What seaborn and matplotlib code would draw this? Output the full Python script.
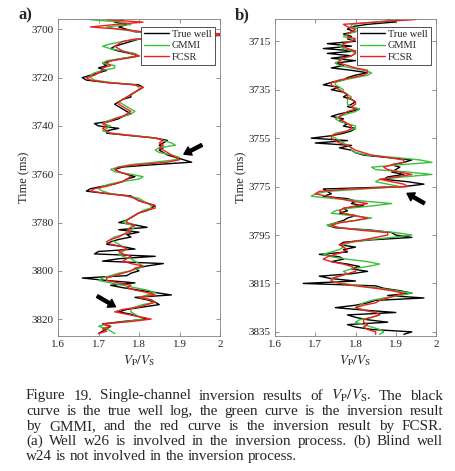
import numpy as np
import pandas as pd
import matplotlib
matplotlib.use('Agg')
import matplotlib.pyplot as plt
from matplotlib.lines import Line2D
import seaborn as sns

# ---- data (1 ms sampling) ----
time_a = np.arange(3696, 3827)
true_a = [1.76, 1.74, 1.77, 1.75, 1.77, 1.79, 2.05, 1.95, 1.80, 1.78,
          1.76, 1.74, 1.73, 1.75, 1.78, 1.80, 1.76, 1.73, 1.71, 1.72,
          1.70, 1.72, 1.70, 1.68, 1.66, 1.67, 1.72, 1.80, 1.81, 1.80,
          1.79, 1.78, 1.78, 1.76, 1.75, 1.74, 1.75, 1.76, 1.77, 1.78,
          1.76, 1.75, 1.73, 1.69, 1.70, 1.75, 1.72, 1.72, 1.78, 1.84,
          1.87, 1.86, 1.85, 1.86, 1.85, 1.86, 1.87, 1.89, 1.91, 1.93,
          1.84, 1.76, 1.74, 1.75, 1.77, 1.79, 1.77, 1.76, 1.74, 1.71,
          1.68, 1.67, 1.72, 1.78, 1.79, 1.80, 1.82, 1.84, 1.83, 1.82,
          1.80, 1.79, 1.78, 1.77, 1.75, 1.79, 1.82, 1.75, 1.80, 1.77,
          1.78, 1.75, 1.73, 1.72, 1.76, 1.79, 1.70, 1.69, 1.84, 1.75,
          1.71, 1.86, 1.82, 1.79, 1.80, 1.78, 1.77, 1.66, 1.72, 1.79,
          1.73, 1.76, 1.80, 1.84, 1.88, 1.79, 1.82, 1.84, 1.85, 1.81,
          1.77, 1.75, 1.78, 1.80, 1.82, 1.76, 1.71, 1.73, 1.72, 1.71,
          1.70]
gmmi_a = [1.68, 1.76, 1.78, 1.72, 1.75, 1.80, 1.83, 1.85, 1.80, 1.76,
          1.73, 1.71, 1.73, 1.76, 1.79, 1.80, 1.76, 1.72, 1.71, 1.74,
          1.74, 1.71, 1.69, 1.68, 1.68, 1.69, 1.73, 1.79, 1.80, 1.80,
          1.79, 1.78, 1.77, 1.76, 1.75, 1.76, 1.77, 1.78, 1.79, 1.78,
          1.76, 1.74, 1.72, 1.71, 1.73, 1.72, 1.71, 1.73, 1.79, 1.84,
          1.86, 1.88, 1.89, 1.85, 1.84, 1.85, 1.88, 1.90, 1.89, 1.84,
          1.78, 1.75, 1.73, 1.74, 1.78, 1.81, 1.80, 1.76, 1.73, 1.71,
          1.70, 1.71, 1.73, 1.77, 1.80, 1.81, 1.82, 1.83, 1.83, 1.81,
          1.80, 1.79, 1.78, 1.77, 1.76, 1.78, 1.79, 1.78, 1.77, 1.76,
          1.74, 1.73, 1.74, 1.75, 1.76, 1.77, 1.76, 1.75, 1.76, 1.78,
          1.79, 1.80, 1.81, 1.80, 1.78, 1.75, 1.73, 1.71, 1.70, 1.73,
          1.76, 1.79, 1.82, 1.84, 1.82, 1.80, 1.83, 1.84, 1.81, 1.79,
          1.78, 1.78, 1.79, 1.80, 1.81, 1.77, 1.72, 1.70, 1.72, 1.73,
          1.74]
fcsr_a = [1.72, 1.81, 1.74, 1.68, 1.76, 1.81, 2.05, 1.92, 1.79, 1.76,
          1.75, 1.74, 1.75, 1.76, 1.78, 1.80, 1.77, 1.73, 1.72, 1.73,
          1.71, 1.71, 1.70, 1.69, 1.67, 1.68, 1.72, 1.79, 1.81, 1.80,
          1.79, 1.78, 1.77, 1.76, 1.75, 1.75, 1.76, 1.77, 1.78, 1.77,
          1.76, 1.74, 1.73, 1.71, 1.72, 1.71, 1.72, 1.73, 1.78, 1.84,
          1.86, 1.85, 1.86, 1.85, 1.86, 1.87, 1.88, 1.89, 1.90, 1.87,
          1.80, 1.75, 1.74, 1.75, 1.77, 1.78, 1.77, 1.76, 1.74, 1.72,
          1.69, 1.68, 1.72, 1.77, 1.79, 1.80, 1.82, 1.84, 1.84, 1.82,
          1.80, 1.79, 1.78, 1.77, 1.77, 1.79, 1.78, 1.77, 1.78, 1.76,
          1.75, 1.73, 1.72, 1.73, 1.76, 1.77, 1.75, 1.76, 1.78, 1.77,
          1.76, 1.78, 1.81, 1.79, 1.78, 1.76, 1.74, 1.72, 1.72, 1.75,
          1.78, 1.77, 1.79, 1.82, 1.84, 1.80, 1.83, 1.84, 1.82, 1.80,
          1.76, 1.74, 1.77, 1.80, 1.83, 1.78, 1.71, 1.73, 1.71, 1.72,
          1.70]

time_b = np.arange(3706, 3837)
true_b = [1.88, 1.90, 1.83, 1.79, 1.78, 1.80, 1.77, 1.79, 1.78, 1.80,
          1.73, 1.79, 1.72, 1.80, 1.73, 1.79, 1.74, 1.80, 1.75, 1.77,
          1.74, 1.79, 1.83, 1.80, 1.78, 1.77, 1.74, 1.72, 1.76, 1.74,
          1.77, 1.78, 1.77, 1.79, 1.80, 1.79, 1.78, 1.81, 1.79, 1.76,
          1.74, 1.77, 1.76, 1.78, 1.77, 1.80, 1.79, 1.77, 1.74, 1.69,
          1.78, 1.70, 1.79, 1.76, 1.79, 1.80, 1.82, 1.88, 1.94, 1.92,
          1.89, 1.91, 1.90, 1.89, 1.92, 1.88, 1.87, 1.93, 1.97, 1.92,
          1.72, 1.73, 1.74, 1.72, 1.78, 1.80, 1.79, 1.82, 1.77, 1.78,
          1.76, 1.80, 1.78, 1.77, 1.75, 1.73, 1.75, 1.84, 1.89, 1.90,
          1.94, 1.84, 1.77, 1.76, 1.80, 1.77, 1.78, 1.71, 1.76, 1.77,
          1.74, 1.78, 1.81, 1.79, 1.83, 1.79, 1.71, 1.74, 1.80, 1.67,
          1.85, 1.87, 1.91, 1.94, 1.88, 1.97, 1.85, 1.83, 1.80, 1.75,
          1.82, 1.90, 1.78, 1.80, 1.83, 1.88, 1.78, 1.80, 1.84, 1.94,
          1.92]
gmmi_b = [1.91, 1.85, 1.79, 1.79, 1.81, 1.80, 1.78, 1.77, 1.79, 1.79,
          1.77, 1.76, 1.77, 1.79, 1.80, 1.79, 1.77, 1.76, 1.75, 1.76,
          1.79, 1.82, 1.84, 1.83, 1.80, 1.77, 1.75, 1.75, 1.76, 1.77,
          1.77, 1.78, 1.79, 1.78, 1.78, 1.78, 1.79, 1.81, 1.80, 1.78,
          1.76, 1.75, 1.76, 1.78, 1.80, 1.80, 1.78, 1.75, 1.74, 1.75,
          1.76, 1.77, 1.78, 1.79, 1.79, 1.80, 1.83, 1.90, 1.96, 1.99,
          1.91, 1.84, 1.85, 1.93, 1.99, 1.92, 1.86, 1.85, 1.88, 1.91,
          1.82, 1.73, 1.70, 1.69, 1.75, 1.82, 1.89, 1.84, 1.78, 1.75,
          1.74, 1.79, 1.84, 1.80, 1.75, 1.73, 1.76, 1.83, 1.90, 1.94,
          1.89, 1.83, 1.79, 1.77, 1.77, 1.76, 1.74, 1.72, 1.74, 1.78,
          1.83, 1.86, 1.83, 1.79, 1.77, 1.78, 1.76, 1.74, 1.74, 1.77,
          1.81, 1.86, 1.90, 1.94, 1.91, 1.87, 1.84, 1.82, 1.81, 1.80,
          1.82, 1.85, 1.86, 1.84, 1.81, 1.80, 1.82, 1.84, 1.86, 1.87,
          1.86]
fcsr_b = [1.95, 1.86, 1.77, 1.78, 1.80, 1.79, 1.78, 1.78, 1.80, 1.79,
          1.77, 1.77, 1.78, 1.80, 1.80, 1.79, 1.77, 1.76, 1.76, 1.78,
          1.80, 1.83, 1.83, 1.82, 1.79, 1.76, 1.74, 1.74, 1.75, 1.76,
          1.77, 1.78, 1.78, 1.79, 1.80, 1.80, 1.79, 1.80, 1.78, 1.77,
          1.76, 1.76, 1.77, 1.78, 1.79, 1.79, 1.78, 1.76, 1.74, 1.74,
          1.75, 1.76, 1.78, 1.79, 1.80, 1.82, 1.84, 1.88, 1.92, 1.92,
          1.89, 1.87, 1.88, 1.91, 1.94, 1.90, 1.86, 1.89, 1.92, 1.93,
          1.78, 1.71, 1.70, 1.73, 1.76, 1.79, 1.83, 1.80, 1.77, 1.76,
          1.77, 1.80, 1.83, 1.80, 1.76, 1.74, 1.76, 1.81, 1.88, 1.88,
          1.85, 1.82, 1.78, 1.76, 1.77, 1.78, 1.77, 1.75, 1.73, 1.72,
          1.74, 1.77, 1.79, 1.80, 1.80, 1.78, 1.76, 1.74, 1.74, 1.76,
          1.80, 1.85, 1.89, 1.92, 1.90, 1.88, 1.86, 1.85, 1.82, 1.80,
          1.82, 1.85, 1.86, 1.84, 1.82, 1.82, 1.83, 1.82, 1.83, 1.85,
          1.85]

curve_names = ['True well', 'GMMI', 'FCSR']
curve_colors = ['#000000', '#3dbf3d', '#f01e1e']
xticks = [1.6, 1.7, 1.8, 1.9, 2.0]
yticks_a = [3700, 3720, 3740, 3760, 3780, 3800, 3820]
yticks_b = [3715, 3735, 3755, 3775, 3795, 3815, 3835]

caption_lines = [
    r'Figure 19. Single-channel inversion results of $V_\mathrm{P}/V_\mathrm{S}$. The black',
    'curve is the true well log, the green curve is the inversion result',
    'by GMMI, and the red curve is the inversion result by FCSR.',
    '(a) Well w26 is involved in the inversion process. (b) Blind well',
    'w24 is not involved in the inversion process.',
]

# ---- style ----
sns.set_style('ticks')
plt.rcParams['font.family'] = ['Liberation Serif', 'DejaVu Serif']
plt.rcParams['mathtext.fontset'] = 'stix'

W, H = 455, 471
fig = plt.figure(figsize=(W / 100, H / 100), dpi=100)
ax_a = fig.add_axes([58 / W, 1 - 335.5 / H, 162 / W, 316.5 / H])
ax_b = fig.add_axes([275 / W, 1 - 335.5 / H, 161 / W, 316.5 / H])


def draw_panel(ax, time, true, gmmi, fcsr, yticks, ylim):
    df = pd.DataFrame({
        'time': np.concatenate([time, time, time]),
        'vpvs': np.concatenate([true, gmmi, fcsr]),
        'curve': np.repeat(curve_names, len(time)),
    })
    sns.lineplot(data=df, x='vpvs', y='time', hue='curve', hue_order=curve_names,
                 palette=curve_colors, estimator=None, sort=False, orient='y',
                 linewidth=1.0, legend=False, ax=ax)
    ax.set_xlim(1.6, 2.0)
    ax.set_ylim(*ylim)
    ax.set_xticks(xticks)
    ax.set_xticklabels(['%g' % v for v in xticks])
    ax.set_yticks(yticks)
    ax.tick_params(direction='in', top=True, right=True, length=3, width=0.6,
                   color='#808080', labelsize=8, pad=3, labelcolor='#222222')
    for s in ax.spines.values():
        s.set_color('#808080')
        s.set_linewidth(0.6)
    ax.set_xlabel(r'$V_\mathrm{P}/V_\mathrm{S}$', fontsize=9.5)
    ax.set_ylabel('Time (ms)', fontsize=9)
    ax.xaxis.set_label_coords(0.5, -0.055)
    ax.yaxis.set_label_coords(-0.17, 0.5)
    handles = [Line2D([0], [0], color=c, lw=1.0) for c in curve_colors]
    leg = ax.legend(handles, curve_names, loc='upper right', bbox_to_anchor=(0.967, 0.976),
                    borderaxespad=0, fontsize=7.5, frameon=True, fancybox=False,
                    edgecolor='#333333', framealpha=1, handlelength=2.4,
                    handletextpad=0.3, labelspacing=0.2, borderpad=0.3)
    leg.get_frame().set_linewidth(0.6)


draw_panel(ax_a, time_a, true_a, gmmi_a, fcsr_a, yticks_a, (3826.8, 3695.7))
draw_panel(ax_b, time_b, true_b, gmmi_b, fcsr_b, yticks_b, (3836.5, 3705.8))

arrow = dict(facecolor='black', edgecolor='black', width=2.2, headwidth=6.5,
             headlength=5, shrink=0)
ax_a.annotate('', xy=(1.911, 3751.7), xytext=(1.955, 3747.9), arrowprops=arrow)
ax_a.annotate('', xy=(1.742, 3814.9), xytext=(1.697, 3810.5), arrowprops=arrow)
ax_b.annotate('', xy=(1.928, 3777.8), xytext=(1.971, 3781.9), arrowprops=arrow)

fig.text(25 / W, 1 - 15 / H, 'a)', fontsize=12, fontweight='bold', ha='center', va='center')
fig.text(242 / W, 1 - 15 / H, 'b)', fontsize=12, fontweight='bold', ha='center', va='center')

# ---- justified caption ----
renderer = fig.canvas.get_renderer()
cap_fs = 10.9
x_left, x_right = 26, 443
baselines = [399.5, 414.6, 429.7, 444.8, 459.9]
for i, (line, yb) in enumerate(zip(caption_lines, baselines)):
    words = line.split(' ')
    arts = [fig.text(0, 1 - yb / H, w, fontsize=cap_fs, va='baseline', ha='left') for w in words]
    widths = [a.get_window_extent(renderer).width for a in arts]
    space = cap_fs * 100 / 72 * 0.25
    if i < len(caption_lines) - 1:
        gap = max((x_right - x_left - sum(widths)) / (len(words) - 1), 0.6 * space)
    else:
        gap = space
    x = x_left
    for a, w in zip(arts, widths):
        a.set_x(x / W)
        x += w + gap

fig.savefig('out.png', dpi=100)
